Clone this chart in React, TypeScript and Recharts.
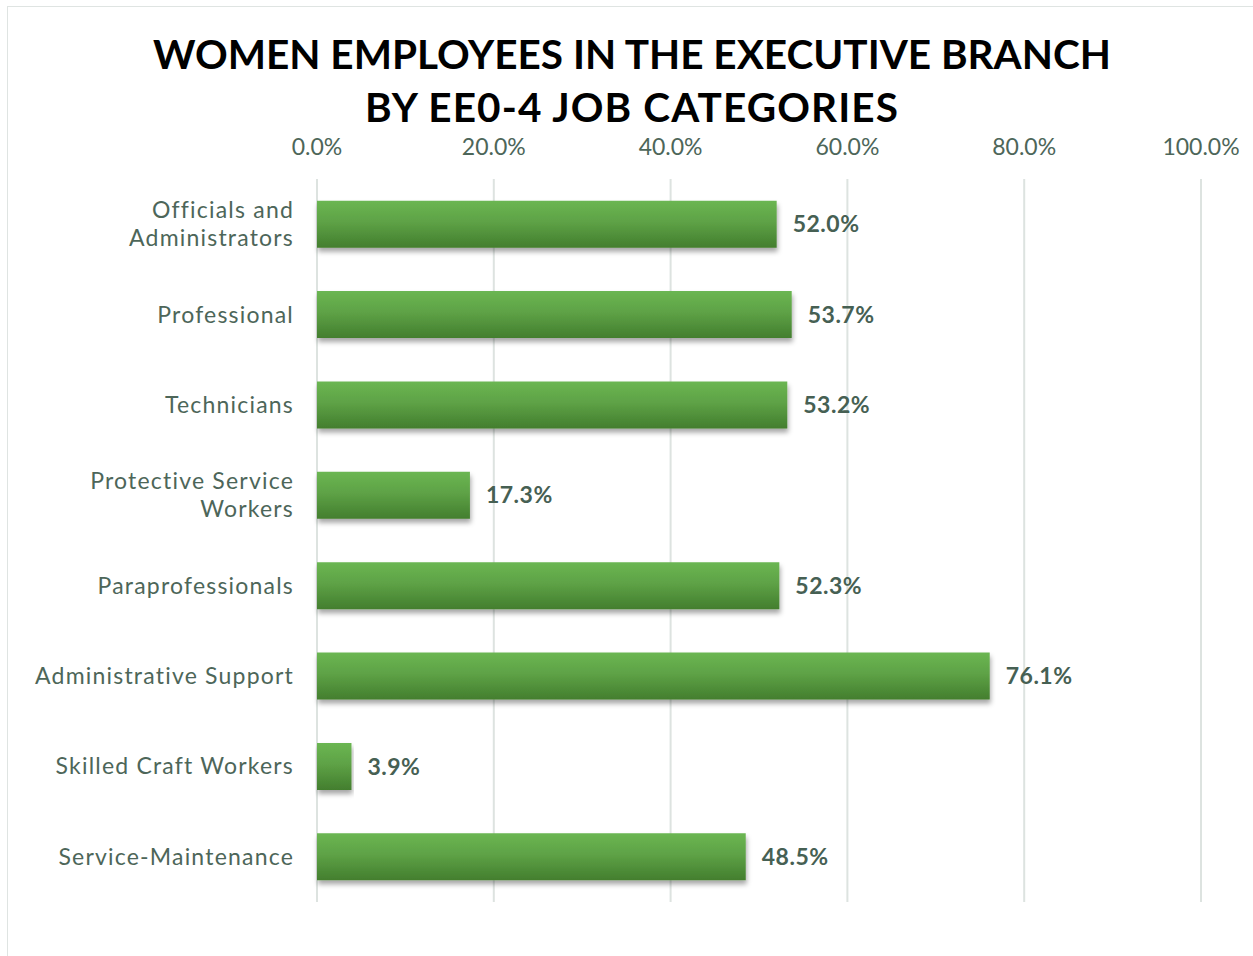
import React from 'react'
import { BarChart, Bar, XAxis, YAxis, CartesianGrid, LabelList } from 'recharts'

const categories = [
  'Officials and\nAdministrators',
  'Professional',
  'Technicians',
  'Protective Service\nWorkers',
  'Paraprofessionals',
  'Administrative Support',
  'Skilled Craft Workers',
  'Service-Maintenance',
]
const womenShare = [52.0, 53.7, 53.2, 17.3, 52.3, 76.1, 3.9, 48.5]
const xTicks = [0, 20, 40, 60, 80, 100]

const data = categories.map((c, i) => ({ category: c, value: womenShare[i] }))

const FONT = '"Century Gothic", "URW Gothic", Lato, "Open Sans", sans-serif'
const TEXT = '#4d6659'

function CategoryTick(props: any) {
  const { x, y, payload } = props
  const lines = String(payload.value).split('\n')
  const lh = 28
  const start = -((lines.length - 1) * lh) / 2
  return (
    <text x={x} y={y} textAnchor="end" fill={TEXT} fontSize={23} fontFamily={FONT} letterSpacing={1.2}>
      {lines.map((l, i) => (
        <tspan key={i} x={x} dy={i === 0 ? start + 8 : lh}>{l}</tspan>
      ))}
    </text>
  )
}

export default function App() {
  return (
    <div style={{ position: 'absolute', left: 0, top: 0, width: 1253, height: 956, background: '#fff', overflow: 'hidden' }}>
      <div style={{ position: 'absolute', left: 7, top: 6, width: 1260, height: 960, borderLeft: '1.5px solid #dfe4e2', borderTop: '1.5px solid #dfe4e2' }} />
      <div style={{ position: 'absolute', left: 0, top: 27, width: 1264, textAlign: 'center', fontFamily: FONT, fontWeight: 700, fontSize: 40.5, lineHeight: '53px', color: '#000' }}>
        WOMEN EMPLOYEES IN THE EXECUTIVE BRANCH<br />
        <span style={{ letterSpacing: 1.1 }}>BY EE0-4 JOB CATEGORIES</span>
      </div>
      <div style={{ position: 'absolute', left: 0, top: 0 }}>
        <BarChart
          width={1253}
          height={956}
          data={data}
          layout="vertical"
          margin={{ top: 149, right: 52, bottom: 54, left: 0 }}
          barCategoryGap="24%"
        >
          <defs>
            <linearGradient id="barFill" x1="0" y1="0" x2="0" y2="1">
              <stop offset="0%" stopColor="#6bb652" />
              <stop offset="45%" stopColor="#5ea246" />
              <stop offset="100%" stopColor="#437e2e" />
            </linearGradient>
            <filter id="barShadow" x="-5%" y="-20%" width="110%" height="150%">
              <feDropShadow dx="1" dy="4" stdDeviation="2.5" floodColor="#000" floodOpacity="0.35" />
            </filter>
          </defs>
          <CartesianGrid horizontal={false} stroke="#dde3e0" strokeWidth={2} />
          <XAxis
            type="number"
            orientation="top"
            domain={[0, 100]}
            ticks={xTicks}
            height={30}
            tickFormatter={(v: number) => `${v.toFixed(1)}%`}
            axisLine={false}
            tickLine={false}
            tick={{ fill: TEXT, fontSize: 23, fontFamily: FONT }}
            tickMargin={18}
            interval={0}
          />
          <YAxis
            type="category"
            dataKey="category"
            width={317}
            axisLine={false}
            tickLine={false}
            tick={<CategoryTick />}
            tickMargin={17}
            interval={0}
          />
          <Bar dataKey="value" fill="url(#barFill)" filter="url(#barShadow)" isAnimationActive={false}>
            <LabelList
              dataKey="value"
              position="right"
              offset={16}
              formatter={(v: any) => `${Number(v).toFixed(1)}%`}
              style={{ fill: '#466053', fontSize: 23, fontWeight: 700, fontFamily: FONT, letterSpacing: 0.5 }}
            />
          </Bar>
        </BarChart>
      </div>
    </div>
  )
}
